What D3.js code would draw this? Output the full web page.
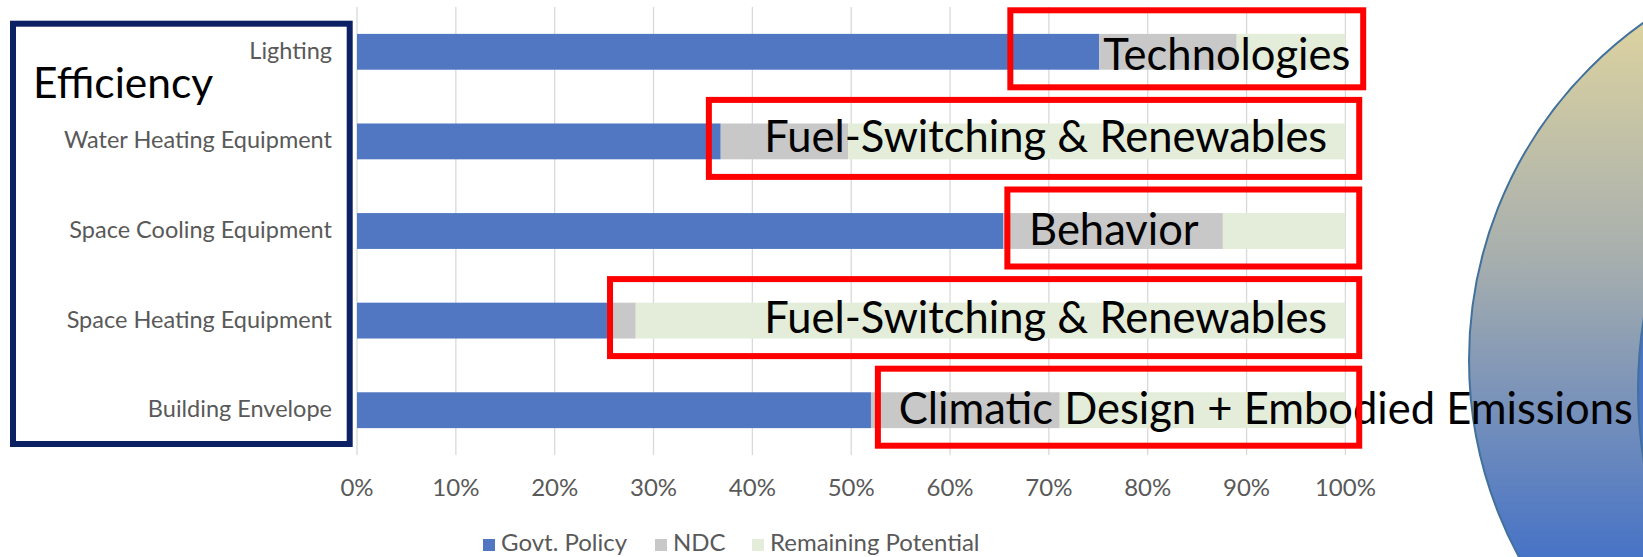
<!DOCTYPE html>
<html>
<head>
<meta charset="UTF-8" />
<title>Efficiency potential by end use</title>
<script src="https://d3js.org/d3.v7.min.js"></script>
<style>
  body { margin: 0; background: #ffffff; }
  svg { display: block; font-family: "Lato", "Open Sans", sans-serif; }
  .cat { font-size: 23.5px; fill: #595959; }
  .tick-label { font-size: 24px; fill: #595959; }
  .legend text { font-size: 24px; fill: #595959; }
  .big { font-size: 43.5px; fill: #000; }
</style>
</head>
<body>
<svg id="chart"></svg>
<script>
  // data
  const categories = ["Lighting", "Water Heating Equipment", "Space Cooling Equipment",
                      "Space Heating Equipment", "Building Envelope"];
  const govtPolicy = [75.1, 36.8, 65.4, 25.3, 52.0];
  const ndc        = [13.9, 12.9, 22.2, 2.9, 19.1];
  const remaining  = [11.0, 50.3, 12.4, 71.8, 28.9];
  const seriesNames = ["Govt. Policy", "NDC", "Remaining Potential"];
  const xTicks = [0, 10, 20, 30, 40, 50, 60, 70, 80, 90, 100];

  // callouts over the bars
  const calloutText = ["Technologies", "Fuel-Switching & Renewables", "Behavior",
                       "Fuel-Switching & Renewables", "Climatic Design + Embodied Emissions"];
  const calloutBoxFrom  = [66.1, 35.6, 65.8, 25.6, 52.7];   // % where red box starts
  const calloutTextFrom = [75.5, 41.2, 68.0, 41.2, 54.8];   // % where text starts

  const width = 1643, height = 557;
  const colors = ["#5177c2", "#c8c8c8", "#e3edd9"];

  const svg = d3.select("#chart").attr("width", width).attr("height", height);
  svg.append("rect").attr("width", width).attr("height", height).attr("fill", "#fff");

  const x = d3.scaleLinear().domain([0, 100]).range([357, 1345.4]);
  const y = d3.scaleBand().domain(categories).range([7, 455])
    .paddingInner(0.6).paddingOuter(0.3);

  // background circle on the right
  const grad = svg.append("defs").append("linearGradient")
    .attr("id", "circGrad").attr("gradientUnits", "userSpaceOnUse")
    .attr("x1", 0).attr("y1", 20).attr("x2", 0).attr("y2", 557);
  grad.append("stop").attr("offset", 0).attr("stop-color", "#ddd3a0");
  grad.append("stop").attr("offset", 0.45).attr("stop-color", "#a6aeae");
  grad.append("stop").attr("offset", 1).attr("stop-color", "#4773c6");

  svg.append("circle").attr("cx", 1882).attr("cy", 360).attr("r", 413)
    .attr("fill", "url(#circGrad)").attr("stroke", "#41719c").attr("stroke-width", 2);
  svg.append("circle").attr("cx", 2081).attr("cy", 390).attr("r", 443)
    .attr("fill", "#4a74c4").attr("stroke", "#41719c").attr("stroke-width", 2);

  // gridlines
  svg.append("g").selectAll("line").data(xTicks).join("line")
    .attr("x1", d => x(d)).attr("x2", d => x(d))
    .attr("y1", 7).attr("y2", 455)
    .attr("stroke", "#d9d9d9").attr("stroke-width", 1.3);

  // x axis labels
  svg.append("g").selectAll("text").data(xTicks).join("text")
    .attr("class", "tick-label")
    .attr("x", d => x(d)).attr("y", 496)
    .attr("text-anchor", "middle")
    .text(d => d + "%");

  // stacked bars
  const stackData = categories.map((c, i) => {
    const vals = [govtPolicy[i], ndc[i], remaining[i]];
    const out = { cat: c };
    seriesNames.forEach((s, j) => out[s] = vals[j]);
    return out;
  });
  const stacked = d3.stack().keys(seriesNames)(stackData);

  svg.append("g").selectAll("g").data(stacked).join("g")
    .attr("fill", (d, i) => colors[i])
    .selectAll("rect").data(d => d).join("rect")
    .attr("x", d => x(d[0]))
    .attr("width", d => x(d[1]) - x(d[0]))
    .attr("y", d => y(d.data.cat))
    .attr("height", y.bandwidth());

  // left box with category labels
  svg.append("rect").attr("x", 13).attr("y", 23.7).attr("width", 336.7).attr("height", 420.3)
    .attr("fill", "none").attr("stroke", "#0b2164").attr("stroke-width", 6);

  svg.append("text").attr("x", 33).attr("y", 98)
    .attr("font-size", 42.5).attr("fill", "#000").text("Efficiency");

  svg.append("g").selectAll("text").data(categories).join("text")
    .attr("class", "cat")
    .attr("x", 332)
    .attr("y", d => y(d) + y.bandwidth() / 2 + 7)
    .attr("text-anchor", "end")
    .text(d => d);

  // callouts: red boxes + large text
  const baselineShift = [18, 11, 14, 12.7, 14];
  const callouts = svg.append("g");
  calloutText.forEach((t, i) => {
    const cy = y(categories[i]) + y.bandwidth() / 2;
    callouts.append("text").attr("class", "big")
      .attr("x", x(calloutTextFrom[i])).attr("y", cy + baselineShift[i])
      .text(t);
    const right = i === 0 ? 101.8 : 101.4;
    callouts.append("rect")
      .attr("x", x(calloutBoxFrom[i]))
      .attr("width", x(right) - x(calloutBoxFrom[i]))
      .attr("y", cy - 41.5).attr("height", 77)
      .attr("fill", "none").attr("stroke", "#ff0000").attr("stroke-width", 6);
  });

  // legend
  const legendX = [483, 655, 752];
  const legend = svg.append("g").attr("class", "legend");
  seriesNames.forEach((s, i) => {
    legend.append("rect").attr("x", legendX[i]).attr("y", 539)
      .attr("width", 12).attr("height", 12).attr("fill", colors[i]);
    legend.append("text").attr("x", legendX[i] + 18).attr("y", 551).text(s);
  });
</script>
</body>
</html>
